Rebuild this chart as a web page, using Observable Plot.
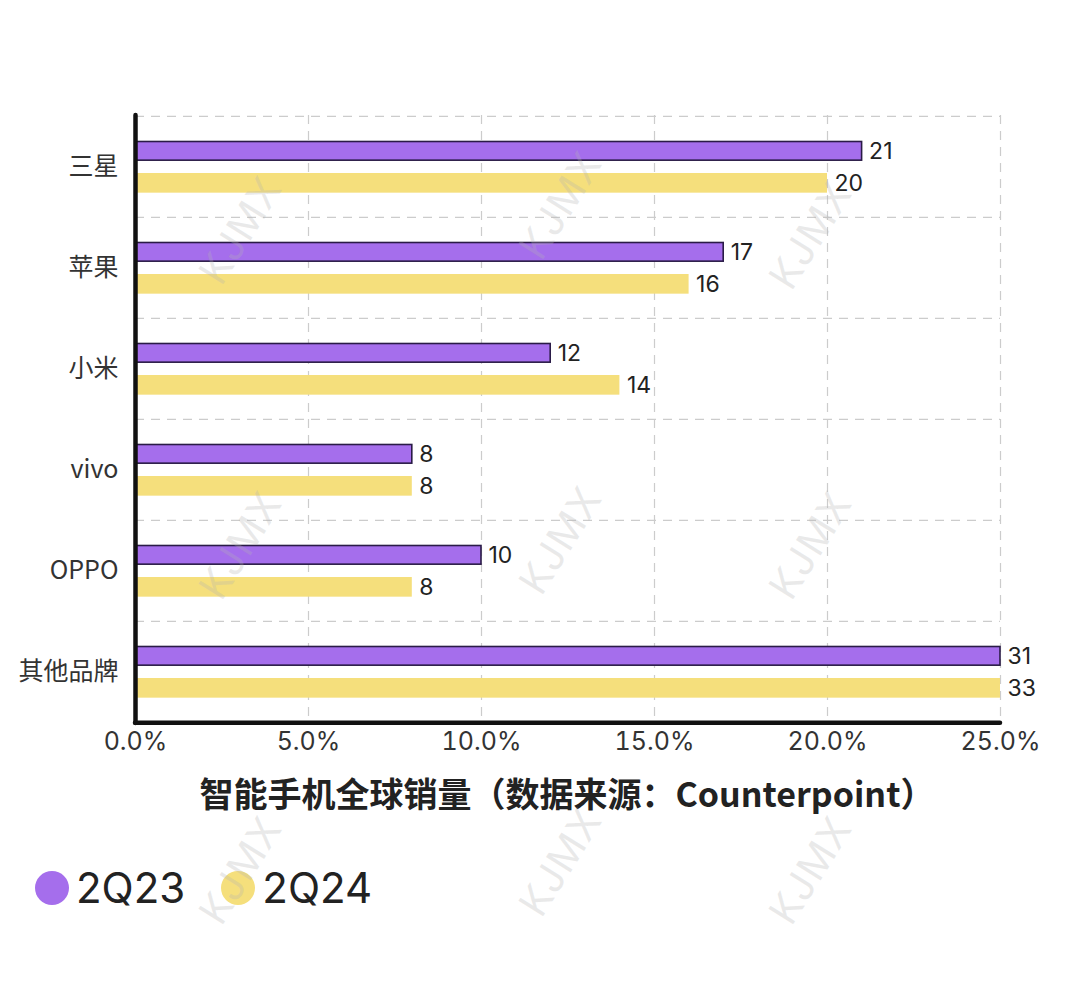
<!DOCTYPE html>
<html>
<head>
<meta charset="utf-8">
<script src="https://cdn.jsdelivr.net/npm/d3@7"></script>
<script src="https://cdn.jsdelivr.net/npm/@observablehq/plot@0.6"></script>
<style>
  html, body { margin: 0; padding: 0; background: #fff; }
  body { width: 1080px; height: 986px; overflow: hidden; position: relative;
         font-family: Inter, "Noto Sans CJK SC", sans-serif; color: #222; }
  #chart svg { display: block; }
  #title { position: absolute; left: 10px; width: 1114px; top: 768px; text-align: center;
           font-size: 34px; font-weight: 700; color: #222; font-family: "Noto Sans CJK SC", Inter, sans-serif; }
  #legend { position: absolute; left: 35px; top: 862px; display: flex; align-items: center; font-size: 42px; color: #222; }
  .item { display: flex; align-items: center; margin-right: 36px; }
  .dot { width: 34px; height: 34px; border-radius: 50%; margin-right: 7px; }
  #wm { position: absolute; left: 0; top: 0; width: 1080px; height: 986px; pointer-events: none; }
  .w { position: absolute; font-size: 40px; color: rgba(180,180,180,0.28); transform: translate(-50%,-50%) rotate(-58deg); font-family: Inter, sans-serif; letter-spacing: 1px; }
</style>
</head>
<body>
<div id="chart"></div>
<div id="title"></div>
<div id="legend"></div>
<div id="wm"></div>
<script>
const brands = ["三星", "苹果", "小米", "vivo", "OPPO", "其他品牌"];
const s2Q23 = [21, 17, 12, 8, 10, 31];
const s2Q24 = [20, 16, 14, 8, 8, 33];
const xTicks = [0, 5, 10, 15, 20, 25];
const seriesNames = ["2Q23", "2Q24"];
const seriesColors = ["#a56eec", "#f5df7c"];
const titleText = "智能手机全球销量（数据来源：Counterpoint）";
const watermark = "KJMX";

const d23 = brands.map((b, i) => ({brand: b, value: s2Q23[i]}));
const d24 = brands.map((b, i) => ({brand: b, value: s2Q24[i]}));

const W = 1080, H = 775, mT = 115, mB = 52, mL = 135, mR = 80;
const bw = (H - mT - mB) / brands.length;

const chart = Plot.plot({
  width: W, height: H,
  marginTop: mT, marginBottom: mB, marginLeft: mL, marginRight: mR,
  style: {fontFamily: 'Inter, "Noto Sans CJK SC", sans-serif', background: "transparent", color: "#222"},
  x: {domain: [0, 25], clamp: true, ticks: xTicks, tickFormat: d => d.toFixed(1) + "%", label: null},
  y: {domain: brands, padding: 0, label: null},
  marks: [
    Plot.ruleX(xTicks.slice(1), {stroke: "#cccccc", strokeWidth: 1.2, strokeDasharray: "9,7"}),
    Plot.ruleY(brands, {dy: -bw / 2, stroke: "#cccccc", strokeWidth: 1.2, strokeDasharray: "9,7"}),
    Plot.barX(d23, {x: "value", y: "brand", fill: seriesColors[0], stroke: "#2a1b47", strokeWidth: 1.6,
      insetTop: 25.5, insetBottom: bw - 44.5}),
    Plot.barX(d24, {x: "value", y: "brand", fill: seriesColors[1],
      insetTop: 57, insetBottom: bw - 77}),
    Plot.text(d23, {x: "value", y: "brand", text: d => String(d.value), dy: 35 - bw / 2, dx: 7,
      textAnchor: "start", fontSize: 23, fill: "#222"}),
    Plot.text(d24, {x: "value", y: "brand", text: d => String(d.value), dy: 67 - bw / 2, dx: 7,
      textAnchor: "start", fontSize: 23, fill: "#222"}),
    Plot.axisX({ticks: xTicks, tickSize: 0, tickPadding: 9, fontSize: 25, fill: "#333",
      tickFormat: d => d.toFixed(1) + "%", label: null}),
    Plot.axisY({tickSize: 0, tickPadding: 17, fontSize: 25, fill: "#333", label: null,
      fontFamily: '"Noto Sans CJK SC", Inter, sans-serif'}),
    Plot.ruleX([0], {stroke: "#111", strokeWidth: 4.5, strokeLinecap: "round"}),
    Plot.ruleY([brands[brands.length - 1]], {dy: bw / 2, stroke: "#111", strokeWidth: 4.5, strokeLinecap: "round"})
  ]
});
document.getElementById("chart").appendChild(chart);

document.getElementById("title").textContent = titleText;

const legend = document.getElementById("legend");
seriesNames.forEach((n, i) => {
  const it = document.createElement("div");
  it.className = "item";
  const dot = document.createElement("div");
  dot.className = "dot";
  dot.style.background = seriesColors[i];
  const t = document.createElement("span");
  t.textContent = n;
  it.appendChild(dot); it.appendChild(t);
  legend.appendChild(it);
});

const wmPos = [[240,230],[560,205],[810,235],[240,545],[560,540],[810,545],[240,870],[560,862],[810,870]];
const wm = document.getElementById("wm");
wmPos.forEach(([x, y]) => {
  const s = document.createElement("div");
  s.className = "w";
  s.style.left = x + "px"; s.style.top = y + "px";
  s.textContent = watermark;
  wm.appendChild(s);
});
</script>
</body>
</html>
